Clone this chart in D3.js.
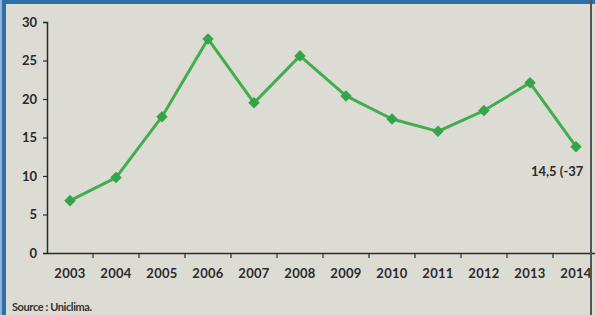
<!DOCTYPE html>
<html><head><meta charset="utf-8">
<script src="https://cdn.jsdelivr.net/npm/d3@7"></script>
<style>html,body{margin:0;padding:0;background:#dcdcd5;}svg{display:block;}</style>
</head><body>
<script>
const years = ["2003","2004","2005","2006","2007","2008","2009","2010","2011","2012","2013","2014"];
const values = [6.8, 9.8, 17.7, 27.8, 19.5, 25.6, 20.4, 17.4, 15.8, 18.5, 22.1, 13.8];
const yTicks = [0, 5, 10, 15, 20, 25, 30];
const lastLabel = "14,5 (-37";
const sourceText = "Source : Uniclima.";

const W = 595, H = 315;
const svg = d3.select("body").append("svg").attr("width", W).attr("height", H);
svg.append("rect").attr("width", W).attr("height", H).attr("fill", "#dcdcd5");

const x = d3.scaleBand().domain(years).range([47, 599]);
const y = d3.scaleLinear().domain([0, 30]).range([253, 22]);

// frame
svg.append("rect").attr("x", 0).attr("y", 0).attr("width", W).attr("height", 4).attr("fill", "#2f6ea6");
svg.append("rect").attr("x", 0).attr("y", 0).attr("width", 2).attr("height", H).attr("fill", "#8fb4d6");
svg.append("rect").attr("x", 2).attr("y", 0).attr("width", 4).attr("height", H).attr("fill", "#2f6ea6");

const font = "Lato, 'Open Sans', sans-serif";

// y axis
const ya = svg.append("g").attr("transform", "translate(47,0)")
  .call(d3.axisLeft(y).tickValues(yTicks).tickSize(4).tickPadding(6));
ya.select(".domain").attr("stroke", "#2a2a2a").attr("stroke-width", 1.5);
ya.selectAll(".tick line").attr("stroke", "#2a2a2a").attr("stroke-width", 1.2);
ya.selectAll("text").attr("font-family", font).attr("font-size", 13).attr("font-weight", 700).attr("fill", "#2a2a2a");

// x axis
const xa = svg.append("g").attr("transform", "translate(0,253)")
  .call(d3.axisBottom(x).tickSize(0).tickPadding(16));
xa.select(".domain").attr("stroke", "#2a2a2a").attr("stroke-width", 1.5);
xa.selectAll("text").attr("font-family", font).attr("font-size", 13).attr("font-weight", 700).attr("fill", "#2a2a2a").attr("letter-spacing", 0.3);
// boundary ticks between categories
svg.append("g").selectAll("line").data(years.slice(1)).join("line")
  .attr("x1", d => x(d)).attr("x2", d => x(d))
  .attr("y1", 253).attr("y2", 258)
  .attr("stroke", "#2a2a2a").attr("stroke-width", 1.2);

// line
const cx = d => x(d) + x.bandwidth() / 2;
const line = d3.line().x((d, i) => cx(years[i])).y(d => y(d));
svg.append("path").datum(values).attr("d", line)
  .attr("fill", "none").attr("stroke", "#42ad4d").attr("stroke-width", 3).attr("stroke-linejoin", "round");

// markers
svg.append("g").selectAll("path").data(values).join("path")
  .attr("d", d3.symbol().type(d3.symbolDiamond2 || d3.symbolDiamond).size(85))
  .attr("transform", (d, i) => `translate(${cx(years[i])},${y(d)})`)
  .attr("fill", "#34a546");

// last label
svg.append("text")
  .attr("x", 531).attr("y", 176)
  .attr("font-family", font).attr("font-size", 13).attr("font-weight", 700).attr("fill", "#2a2a2a")
  .text(lastLabel);

// source
svg.append("text").attr("x", 12).attr("y", 311)
  .attr("font-family", font).attr("font-size", 11).attr("font-weight", 700).attr("fill", "#333")
  .attr("letter-spacing", -0.4)
  .text(sourceText);

// right edge line
svg.append("rect").attr("x", 590).attr("y", 0).attr("width", 2).attr("height", H).attr("fill", "#555");
</script>
</body></html>
